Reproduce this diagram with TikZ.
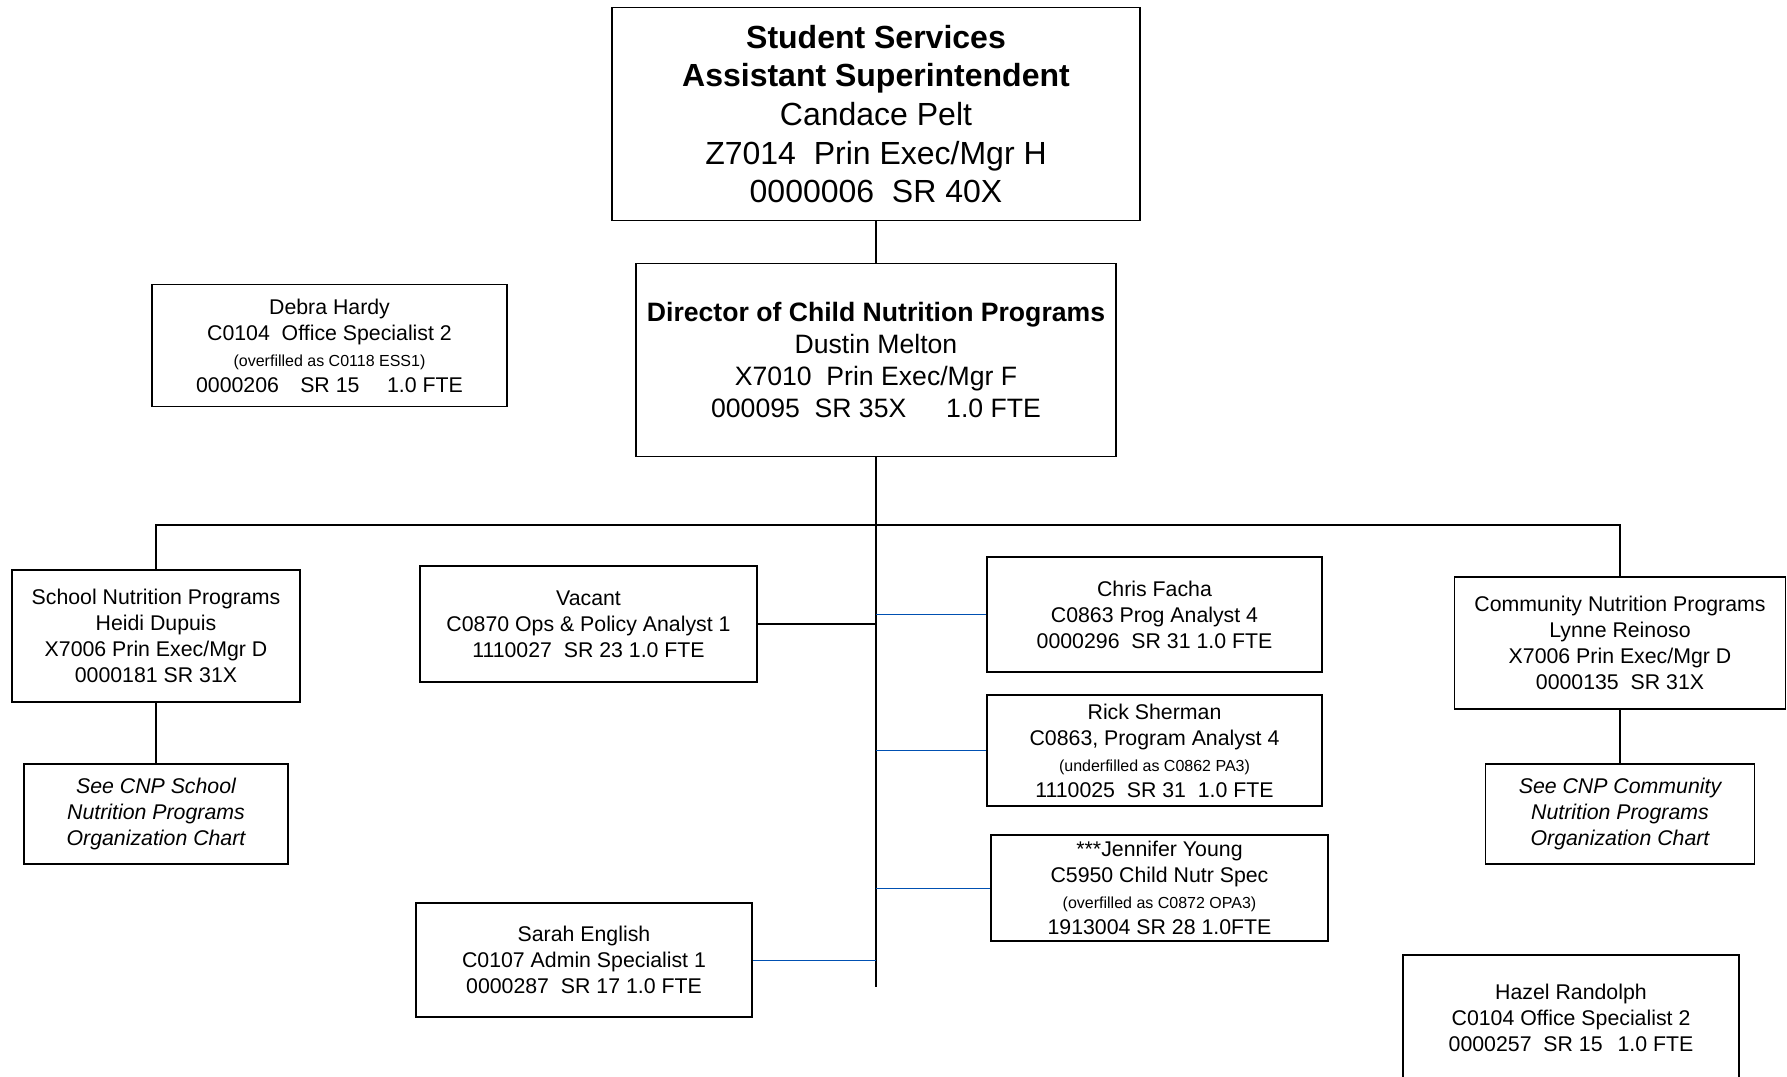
\documentclass[tikz,border=0pt]{standalone}
\usepackage{fontspec}
\setmainfont{Liberation Sans}
\begin{document}
\begin{tikzpicture}[x=1pt,y=-1pt,
  box/.style={draw=black, line width=1.6pt, inner sep=0pt, align=center,
    font=\fontsize{21.3}{26}\selectfont},
  link/.style={draw=black, line width=1.6pt},
  sublink/.style={draw=blue!55!cyan!70!black, line width=0.9pt}]
\useasboundingbox[fill=white] (0,0) rectangle (1787,1076);

% executive level
\node[box, minimum width=528pt, minimum height=213pt,
  font=\fontsize{32}{38.6}\selectfont] (top) at (876,114)
  {\textbf{Student Services}\\ \textbf{Assistant Superintendent}\\ Candace Pelt\\
   Z7014~ Prin Exec/Mgr H\\ 0000006~ SR 40X};

\node[box, minimum width=480pt, minimum height=193pt,
  font=\fontsize{26.6}{32}\selectfont] (dir) at (876,360)
  {\textbf{Director of Child Nutrition Programs}\\ Dustin Melton\\
   X7010~ Prin Exec/Mgr F\\ 000095~ SR 35X\hspace{1.5em}1.0 FTE};

\node[box, minimum width=355pt, minimum height=122pt] (debra) at (329.5,345.5)
  {Debra Hardy\\ C0104~ Office Specialist 2\\
   {\fontsize{16}{26}\selectfont (overfilled as C0118 ESS1)}\\
   0000206\hspace{1em}SR 15\hspace{1.3em}1.0 FTE};

% program managers
\node[box, minimum width=288pt, minimum height=132pt] (school) at (156,636)
  {School Nutrition Programs\\ Heidi Dupuis\\ X7006 Prin Exec/Mgr D\\ 0000181 SR 31X};
\node[box, minimum width=264pt, minimum height=100pt, font=\fontsize{21.3}{26}\selectfont\itshape]
  (schoolref) at (156,814)
  {See CNP School\\ Nutrition Programs\\ Organization Chart};

\node[box, minimum width=331pt, minimum height=132pt] (comm) at (1620,643)
  {Community Nutrition Programs\\ Lynne Reinoso\\ X7006 Prin Exec/Mgr D\\ 0000135~ SR 31X};
\node[box, minimum width=269pt, minimum height=100pt, font=\fontsize{21.3}{26}\selectfont\itshape]
  (commref) at (1620,814)
  {See CNP Community\\ Nutrition Programs\\ Organization Chart};

% staff
\node[box, minimum width=337pt, minimum height=116pt] (vacant) at (588.5,624)
  {Vacant\\ C0870 Ops \& Policy Analyst 1\\ 1110027~ SR 23 1.0 FTE};
\node[box, minimum width=335pt, minimum height=115pt] (chris) at (1154.5,614.5)
  {Chris Facha\\ C0863 Prog Analyst 4\\ 0000296~ SR 31 1.0 FTE};
\node[box, minimum width=335pt, minimum height=111pt] (rick) at (1154.5,750.5)
  {Rick Sherman\\ C0863, Program Analyst 4\\
   {\fontsize{16}{26}\selectfont (underfilled as C0862 PA3)}\\
   1110025~ SR 31~ 1.0 FTE};
\node[box, minimum width=337pt, minimum height=106pt] (jen) at (1159.5,888)
  {***Jennifer Young\\ C5950 Child Nutr Spec\\
   {\fontsize{16}{26}\selectfont (overfilled as C0872 OPA3)}\\
   1913004 SR 28 1.0FTE};
\node[box, minimum width=336pt, minimum height=114pt] (sarah) at (584,960)
  {Sarah English\\ C0107 Admin Specialist 1\\ 0000287~ SR 17 1.0 FTE};
\node[box, minimum width=336pt, minimum height=125pt] (hazel) at (1571,1017.5)
  {Hazel Randolph\\ C0104 Office Specialist 2\\ 0000257~ SR 15\hspace{0.7em}1.0 FTE};

% connectors
\coordinate (trunkend) at (876,987);
\coordinate (busL) at (156,525);
\coordinate (busR) at (1620,525);
\draw[link] (top.south) -- (dir.north);
\draw[link] (dir.south) -- (trunkend);
\draw[link] (school.north) -- (busL) -- (busR) -- (comm.north);
\draw[link] (school.south) -- (schoolref.north);
\draw[link] (comm.south) -- (commref.north);
\draw[link] (vacant.east) -- (vacant.east -| trunkend);
\draw[sublink] (chris.west -| trunkend) -- (chris.west);
\draw[sublink] (rick.west -| trunkend) -- (rick.west);
\draw[sublink] (jen.west -| trunkend) -- (jen.west);
\draw[sublink] (sarah.east) -- (sarah.east -| trunkend);
\end{tikzpicture}
\end{document}
